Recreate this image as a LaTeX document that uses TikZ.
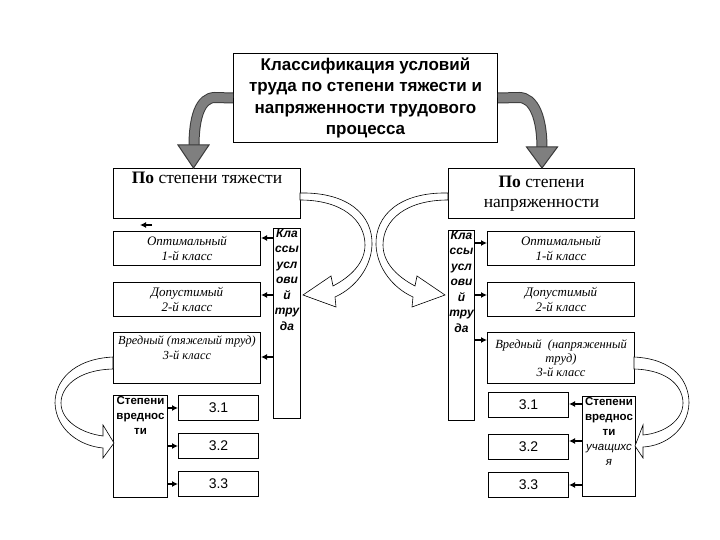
\documentclass[tikz,border=0pt]{standalone}
\usepackage{fontspec}
\setmainfont{Liberation Serif}
\setsansfont{Liberation Sans}
\usetikzlibrary{arrows.meta,calc}
\definecolor{gfill}{HTML}{7F7F7F}
\definecolor{gdark}{HTML}{3A3A3A}
\begin{document}
\begin{tikzpicture}[x=1pt,y=-1pt,
 box/.style={draw, line width=1pt, inner sep=0pt, anchor=north west, align=center},
 arr/.style={line width=1.3pt, -{Latex[length=6pt,width=6pt]}},
 itl/.style={font=\itshape\fontsize{13}{14.5}\selectfont, align=center},
 vtx/.style={font=\sffamily\bfseries\itshape\fontsize{12}{15.5}\selectfont, align=center, inner sep=1pt, anchor=north},
 stx/.style={font=\sffamily\bfseries\fontsize{11.5}{15}\selectfont, align=center, inner sep=1pt, anchor=north},
 num/.style={font=\sffamily\fontsize{14}{16}\selectfont},
 hollow/.style={fill=white, draw=black, line width=0.6pt},
 gband/.style={line width=11pt, draw=gdark},
 gbandin/.style={line width=9pt, draw=gfill},
 ghead/.style={fill=gfill, draw=gdark, line width=1pt, line join=miter}]
\useasboundingbox (0,0) rectangle (720,540);

% top box
\node[box, minimum width=264, minimum height=89, font=\sffamily\bfseries\fontsize{17}{21.5}\selectfont] (top) at (233,53)
 {Классификация условий\\труда по степени тяжести и\\напряженности трудового\\процесса};

% heading boxes
\node[box, minimum width=187, minimum height=50] (L0) at (113,168) {};
\node[font=\fontsize{17.5}{20}\selectfont, anchor=north, inner sep=0pt] (L0t) at ($(L0.north)+(0,4)$) {\textbf{По} степени тяжести};
\node[box, minimum width=186, minimum height=50, font=\fontsize{17.5}{20}\selectfont] (R0) at (448,168) {\textbf{По} степени\\напряженности};

% left column
\node[box, minimum width=147, minimum height=34, itl] (L1) at (113,231) {Оптимальный\\1-й класс};
\node[box, minimum width=147, minimum height=34, itl] (L2) at (113,282) {Допустимый\\2-й класс};
\node[box, minimum width=147, minimum height=51] (L3) at (113,332) {};
\node[font=\itshape\fontsize{12.3}{14.5}\selectfont, align=center, anchor=north, inner sep=0pt] (L3t) at ($(L3.north)+(0,4)$) {Вредный (тяжелый труд)\\3-й класс};
\node[box, minimum width=27, minimum height=190] (LV) at (273,228) {};
\node[vtx] (LVt) at (LV.north) {Кла\\ссы\\усл\\ови\\й\\тру\\да};

\node[box, minimum width=54, minimum height=102] (LS) at (113,395) {};
\node[stx] (LSt) at (LS.north) {Степени\\вреднос\\ти};
\node[box, minimum width=80, minimum height=25, num] (L31) at (178,395) {3.1};
\node[box, minimum width=80, minimum height=25, num] (L32) at (178,433) {3.2};
\node[box, minimum width=80, minimum height=25, num] (L33) at (178,471) {3.3};

% right column
\node[box, minimum width=26, minimum height=190] (RV) at (448,230) {};
\node[vtx] (RVt) at (RV.north) {Кла\\ссы\\усл\\ови\\й\\тру\\да};
\node[box, minimum width=147, minimum height=34, itl] (R1) at (487,231) {Оптимальный\\1-й класс};
\node[box, minimum width=147, minimum height=34, itl] (R2) at (487,282) {Допустимый\\2-й класс};
\node[box, minimum width=147, minimum height=51, font=\itshape\fontsize{12.5}{14}\selectfont] (R3) at (487,332) {Вредный \ (напряженный\\труд)\\3-й класс};

\node[box, minimum width=53, minimum height=100] (RS) at (582,396) {};
\node[stx] (RSt) at (RS.north) {Степени\\вреднос\\ти\\{\mdseries\itshape учащихс}\\{\mdseries\itshape я}};
\node[box, minimum width=80, minimum height=25, num] (R31) at (488,392) {3.1};
\node[box, minimum width=80, minimum height=25, num] (R32) at (488,434) {3.2};
\node[box, minimum width=80, minimum height=25, num] (R33) at (488,472) {3.3};

% small arrows left
\coordinate (a1) at ($(L1.north east)+(0,7)$);
\coordinate (a2) at ($(L2.north east)+(0,13)$);
\coordinate (a3) at ($(L3.north east)+(0,25)$);
\draw[arr] (LV.west |- a1) -- (a1);
\draw[arr] (LV.west |- a2) -- (a2);
\draw[arr] (LV.west |- a3) -- (a3);
\coordinate (s0) at (152,225);
\coordinate (s1) at (140,225);
\draw[arr] (s0) -- (s1);
\draw[arr] (LS.east |- L31.west) -- (L31.west);
\draw[arr] (LS.east |- L32.west) -- (L32.west);
\draw[arr] (LS.east |- L33.west) -- (L33.west);

% small arrows right
\coordinate (b1) at ($(R1.north west)+(0,12)$);
\coordinate (b2) at ($(R2.north west)+(0,13)$);
\coordinate (b3) at ($(R3.north west)+(0,8)$);
\draw[arr] (RV.east |- b1) -- (b1);
\draw[arr] (RV.east |- b2) -- (b2);
\draw[arr] (RV.east |- b3) -- (b3);
\coordinate (c1) at ($(R31.east)+(0,-1)$);
\coordinate (c2) at ($(R32.east)+(0,-6)$);
\draw[arr] (RS.west |- c1) -- (c1);
\draw[arr] (RS.west |- c2) -- (c2);
\draw[arr] (RS.west |- R33.east) -- (R33.east);

% gray arrows from top box
\draw[gband] (top.west) -- (215,97.5) .. controls (200,97.5) and (194,118) .. (194,146);
\draw[gbandin] (top.west) -- (215,97.5) .. controls (200,97.5) and (194,118) .. (194,146);
\filldraw[ghead] (178,145) -- (209,145) -- (193.5,168) -- cycle;
\draw[gband] (top.east) -- (519,97.5) .. controls (534,97.5) and (542,118) .. (542,148);
\draw[gbandin] (top.east) -- (519,97.5) .. controls (534,97.5) and (542,118) .. (542,148);
\filldraw[ghead] (526.5,147) -- (557.5,147) -- (542,168) -- cycle;

% hollow curved arrows (middle)
\draw[hollow] (300,193) .. controls (348,192) and (373,215) .. (372,245)
  .. controls (371,268) and (355,288) .. (335,297) -- (336,307) -- (303,295) -- (331,276) -- (333,286)
  .. controls (352,276) and (365,262) .. (365,245) .. controls (365,220) and (342,200) .. (300,200) -- cycle;
\draw[hollow] (448,193) .. controls (400,192) and (375,215) .. (376,245)
  .. controls (377,268) and (393,288) .. (413,297) -- (412,307) -- (445,295) -- (417,276) -- (415,286)
  .. controls (396,276) and (383,262) .. (383,245) .. controls (383,220) and (406,200) .. (448,200) -- cycle;

% hollow curved arrows (bottom)
\draw[hollow] (113,357) .. controls (72,359) and (55,382) .. (55,403)
  .. controls (56,430) and (80,446) .. (103,448) -- (103,458) -- (114,443) -- (103,425) -- (103,436)
  .. controls (80,433) and (61,420) .. (61,403) .. controls (61,388) and (76,370) .. (113,369) -- cycle;
\draw[hollow] (634,357) .. controls (675,359) and (689,382) .. (689,403)
  .. controls (688,430) and (665,446) .. (643,447) -- (643,458) -- (635,446) -- (643,425) -- (643,435)
  .. controls (665,433) and (683,420) .. (683,403) .. controls (683,388) and (670,370) .. (634,369) -- cycle;
\end{tikzpicture}
\end{document}
